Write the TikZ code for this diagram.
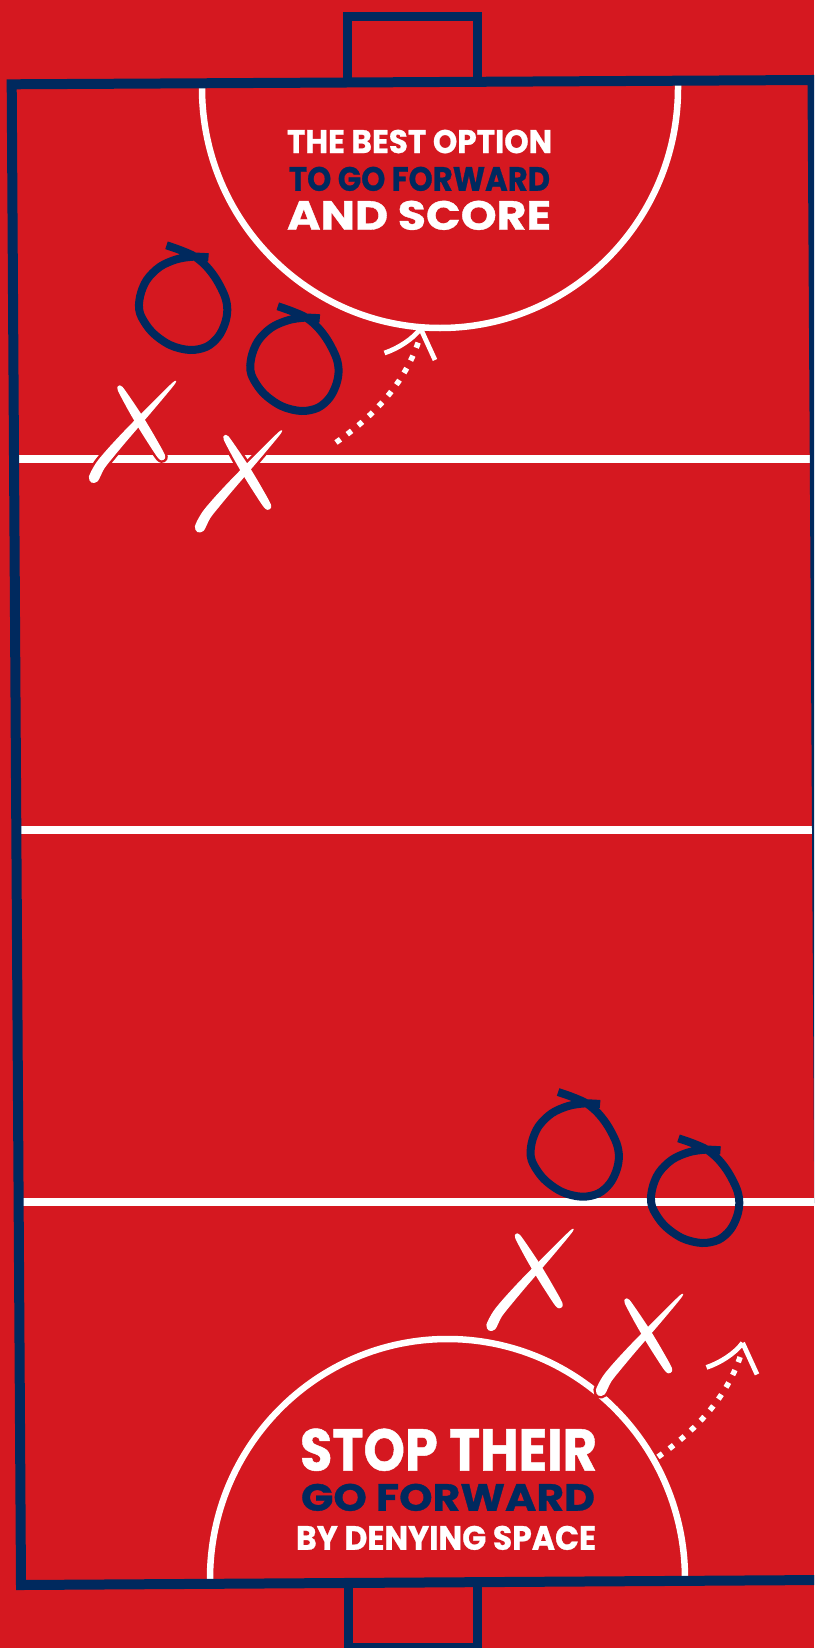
\documentclass[tikz,border=0pt]{standalone}
\usepackage{fontspec}
\setmainfont{Poppins}
\newfontfamily\heavy{Poppins}[BoldFeatures={FakeBold=0.8}]
\usepackage{graphicx}
\definecolor{courtred}{RGB}{213,24,32}
\definecolor{courtnavy}{RGB}{0,41,94}
\tikzset{
  wline/.style={draw=white, line width=8pt},
  warc/.style={draw=white, line width=6.5pt},
  navyline/.style={draw=courtnavy, line width=10pt, line join=miter},
  goalline/.style={draw=courtnavy, line width=9pt, line join=miter},
  navyloop/.style={draw=courtnavy, line width=8pt, line cap=butt},
  dotpath/.style={draw=white, line width=5.5pt, dash pattern=on 5.5pt off 8.5pt},
  barb/.style={draw=white, line width=4.8pt, line cap=butt},
  txt/.style={anchor=south west, inner sep=0pt, outer sep=0pt},
  oloop/.pic={
    \draw[navyloop] plot[smooth, tension=0.55] coordinates {(166.5,245.3) (180,250) (195,256.7) (206.7,266.7) (216.7,280) (225,296.7) (227.3,310) (225,323.3) (218.3,336.7) (206.7,346.7) (190,350) (170,345) (151.7,331.7) (140,313.3) (140,296.7) (146.7,280) (160,266.7) (176.7,259.3) (193.3,256.7) (208.5,257.3)};
  },
  xmark/.pic={
    \path[fill=courtred, draw=courtred, line width=5pt] plot[smooth cycle, tension=0.5] coordinates {(122.4,386.8) (134.0,403.2) (145.0,420.0) (155.2,437.2) (164.8,454.8) (163.6,459.8) (158.6,458.6) (147.4,442.0) (136.8,425.0) (126.8,407.6) (117.6,389.8) (118.5,385.9)};
    \path[fill=courtred, draw=courtred, line width=5pt] plot[smooth cycle, tension=0.5] coordinates {(173.4,381.9) (155.6,399.2) (137.3,417.6) (120.8,434.6) (106.3,450.4) (95.8,463.3) (88.9,476.7) (91.5,482.6) (97.7,481.3) (104.2,468.7) (113.7,456.6) (127.2,440.4) (142.7,422.4) (159.4,402.8) (175.2,383.5)};
    \fill[white] plot[smooth cycle, tension=0.5] coordinates {(122.4,386.8) (134.0,403.2) (145.0,420.0) (155.2,437.2) (164.8,454.8) (163.6,459.8) (158.6,458.6) (147.4,442.0) (136.8,425.0) (126.8,407.6) (117.6,389.8) (118.5,385.9)};
    \fill[white] plot[smooth cycle, tension=0.5] coordinates {(173.4,381.9) (155.6,399.2) (137.3,417.6) (120.8,434.6) (106.3,450.4) (95.8,463.3) (88.9,476.7) (91.5,482.6) (97.7,481.3) (104.2,468.7) (113.7,456.6) (127.2,440.4) (142.7,422.4) (159.4,402.8) (175.2,383.5)};
  },
  passarrow/.pic={
    \draw[dotpath] (336,442.5) .. controls (372,417) and (405,385) .. (420,337);
    \draw[barb] (384.5,353) .. controls (398,348.5) and (413,339) .. (420.6,328.5);
    \draw[barb] (420.6,328.5) -- (435,360);
  }
}
\begin{document}
\begin{tikzpicture}[x=1pt,y=-1pt]
\useasboundingbox (0,0) rectangle (814,1648);
\clip (0,0) rectangle (814,1648);
\fill[courtred] (0,0) rectangle (814,1648);
% court lines
\draw[wline] (16,459) -- (814,459);
\draw[wline] (16,830) -- (814,830);
\draw[wline] (16,1201.5) -- (814,1201.5);
% shooting arcs
\draw[warc] (202,80) -- (202,88) .. controls (202,220.6) and (308.6,328) .. (440,328) .. controls (571.4,328) and (678,220.6) .. (678,88) -- (678,80);
\draw[warc] (210,1585) -- (210,1579) .. controls (210,1446.4) and (316.3,1339) .. (447.5,1339) .. controls (578.7,1339) and (685,1446.4) .. (685,1579) -- (685,1585);
% court outline and goals
\draw[navyline] (11.7,84.3) -- (812.5,80) -- (821.5,1580) -- (21,1585) -- cycle;
\draw[goalline] (347.5,82) -- (347.5,16.7) -- (477,16.7) -- (477,81.5);
\draw[goalline] (348,1583) -- (348,1647.5) -- (477,1647.5) -- (477,1582);
% texts
\node[txt, text=white] (t1) at (287,153.3) {\resizebox{265pt}{23.3pt}{\heavy\bfseries THE BEST OPTION}};
\node[txt, text=courtnavy] (t2) at (289,191) {\resizebox{261pt}{24pt}{\heavy\bfseries TO GO FORWARD}};
\node[txt, text=white] (t3) at (287,230) {\resizebox{264pt}{29pt}{\heavy\bfseries AND SCORE}};
\node[txt, text=white] (b1) at (300,1471) {\resizebox{297pt}{42pt}{\heavy\bfseries STOP THEIR}};
\node[txt, text=courtnavy] (b2) at (301,1511) {\resizebox{294pt}{27pt}{\heavy\bfseries GO FORWARD}};
\node[txt, text=white] (b3) at (296,1550) {\resizebox{300pt}{24pt}{\heavy\bfseries BY DENYING SPACE}};
% arrows
\pic at (0,0) {passarrow};
\pic at (322,1014.4) {passarrow};
% crosses
\pic at (0,0) {xmark};
\pic at (106,49.5) {xmark};
\pic at (397.5,848) {xmark};
\pic at (507,913) {xmark};
% loops
\pic at (0,0) {oloop};
\pic at (111.3,61) {oloop};
\pic at (391.6,846.7) {oloop};
\pic at (512,893) {oloop};
\end{tikzpicture}
\end{document}
